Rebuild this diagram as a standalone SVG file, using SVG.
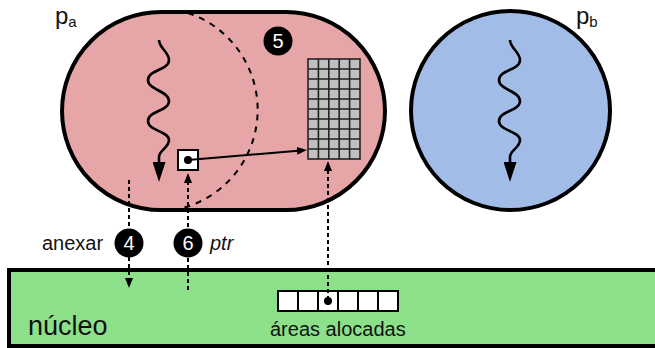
<svg xmlns="http://www.w3.org/2000/svg" width="655" height="348" viewBox="0 0 655 348">
<style>
text{font-family:"Liberation Sans",Arial,sans-serif;fill:#111}
.shape{stroke:#000;stroke-width:4}
.badge circle{fill:#000}
.badge text{fill:#fff;font-size:20px;text-anchor:middle}
.wave{fill:none;stroke:#000;stroke-width:2.6}
.dash{fill:none;stroke:#000;stroke-width:2;stroke-dasharray:4,3}
.arc{fill:none;stroke:#000;stroke-width:2;stroke-dasharray:6,6}
.cell{fill:#fff;stroke:#000;stroke-width:2}
.gl{stroke:#222;stroke-width:1.6}
</style>
<defs>
<marker id="big" viewBox="0 0 20 13" markerWidth="20" markerHeight="13" markerUnits="userSpaceOnUse" refX="1" refY="6.5" orient="auto"><path d="M0,0 L20,6.5 L0,13 z" fill="#000"/></marker>
<marker id="sm" viewBox="0 0 10 8" markerWidth="10" markerHeight="8" markerUnits="userSpaceOnUse" refX="1" refY="4" orient="auto"><path d="M0,0 L10,4 L0,8 z" fill="#000"/></marker>
</defs>

<g id="kernel">
<rect class="shape" x="9" y="270" width="660" height="76" fill="#8ce08a"/>
<text x="28" y="335" font-size="27">núcleo</text>
<g id="areas">
<rect class="cell" x="278" y="291" width="120" height="20"/>
<path d="M298,291 V311 M318,291 V311 M338,291 V311 M358,291 V311 M378,291 V311" stroke="#000" stroke-width="2"/>
<circle cx="328" cy="301" r="4" fill="#000"/>
<text x="270" y="336" font-size="20">áreas alocadas</text>
</g>
</g>

<g id="pa">
<path class="shape" d="M161,12 H286 A99,99 0 0 1 286,210 H161 A99,99 0 0 1 161,12 Z" fill="#e6a5a7"/>
<text x="55" y="24" font-size="24">p<tspan font-size="15" dy="3">a</tspan></text>
<path class="arc" d="M188,13 A102,102 0 0 1 183,208"/>
<path class="wave" d="M159,40 C159,48 169,52 169,60 C169,70 148,70 148,80 C148,90 169,91 169,101 C169,111 148,111 148,121 C148,131 169,131 169,140 C169,148 159,150 159,157 L159,163" marker-end="url(#big)"/>
<g id="grid">
<rect x="308" y="59" width="52" height="100" fill="#c0c0c0" stroke="#222" stroke-width="1.6"/>
<path class="gl" d="M318.4,59 V159 M328.8,59 V159 M339.2,59 V159 M349.6,59 V159 M308,69 H360 M308,79 H360 M308,89 H360 M308,99 H360 M308,109 H360 M308,119 H360 M308,129 H360 M308,139 H360 M308,149 H360"/>
</g>
<g id="ptrbox">
<rect class="cell" x="178" y="150" width="20" height="20"/>
<circle cx="188" cy="160" r="4" fill="#000"/>
</g>
<g id="b5" class="badge"><circle cx="278" cy="41" r="14.5"/><text x="278" y="48">5</text></g>
</g>

<g id="pb">
<circle class="shape" cx="510.5" cy="110.5" r="99.5" fill="#a2bce8"/>
<text x="576" y="24" font-size="24">p<tspan font-size="15" dy="3">b</tspan></text>
<path class="wave" transform="translate(351,0)" d="M159,40 C159,48 169,52 169,60 C169,70 148,70 148,80 C148,90 169,91 169,101 C169,111 148,111 148,121 C148,131 169,131 169,140 C169,148 159,150 159,157 L159,163" marker-end="url(#big)"/>
</g>

<g id="connectors">
<path class="dash" d="M129,180 V279" marker-end="url(#sm)"/>
<path class="dash" d="M188,290 V182" marker-end="url(#sm)"/>
<path class="dash" d="M328,300 V170" marker-end="url(#sm)"/>
<path d="M188,160 L298,150.8" stroke="#000" stroke-width="2" fill="none" marker-end="url(#sm)"/>
</g>

<g id="b4" class="badge"><circle cx="129" cy="243" r="14.5"/><text x="129" y="250">4</text></g>
<text x="42" y="250" font-size="20">anexar</text>
<g id="b6" class="badge"><circle cx="188" cy="243" r="14.5"/><text x="188" y="250">6</text></g>
<text x="210" y="250" font-size="20" font-style="italic">ptr</text>
</svg>
